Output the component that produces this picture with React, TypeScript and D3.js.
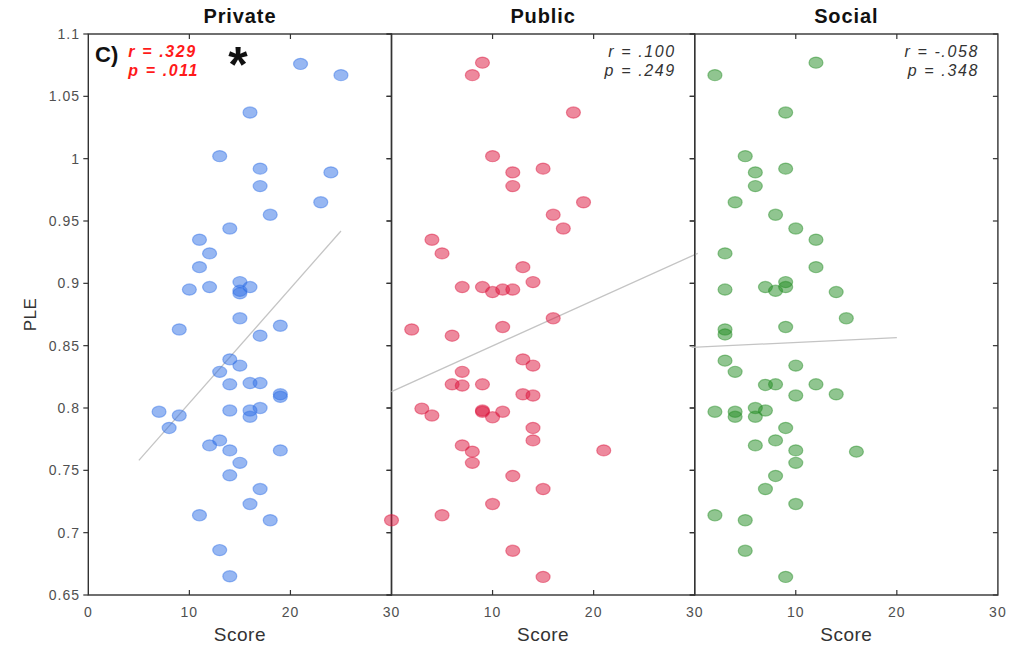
import * as d3 from 'd3'

// PLE vs. Score, one panel per context
const panelNames = ['Private', 'Public', 'Social']

// [score, PLE]
const privatePts: [number, number][] = [
  [21, 1.076], [25, 1.067], [16, 1.037], [13, 1.002], [17, 0.992], [24, 0.989], [17, 0.978], [23, 0.965],
  [18, 0.955], [14, 0.944], [11, 0.935], [12, 0.924], [11, 0.913], [10, 0.895], [12, 0.897], [15, 0.901],
  [15, 0.894], [15, 0.892], [16, 0.897], [15, 0.872], [9, 0.863], [19, 0.866], [17, 0.858], [14, 0.839],
  [15, 0.834], [13, 0.829], [14, 0.819], [16, 0.82], [17, 0.82], [19, 0.811], [19, 0.809], [7, 0.797],
  [9, 0.794], [14, 0.798], [16, 0.798], [17, 0.8], [16, 0.793], [8, 0.784], [12, 0.77], [13, 0.774],
  [14, 0.766], [19, 0.766], [15, 0.756], [14, 0.746], [17, 0.735], [16, 0.723], [11, 0.714], [18, 0.71],
  [13, 0.686], [14, 0.665],
]
const publicPts: [number, number][] = [
  [9, 1.077], [8, 1.067], [18, 1.037], [10, 1.002], [15, 0.992], [12, 0.989], [12, 0.978], [19, 0.965],
  [16, 0.955], [17, 0.944], [4, 0.935], [5, 0.924], [13, 0.913], [14, 0.901], [7, 0.897], [9, 0.897],
  [10, 0.893], [11, 0.895], [12, 0.895], [16, 0.872], [2, 0.863], [6, 0.858], [11, 0.865], [13, 0.839],
  [14, 0.834], [7, 0.829], [6, 0.819], [7, 0.818], [9, 0.819], [13, 0.811], [14, 0.81], [3, 0.7995],
  [4, 0.794], [9, 0.798], [9, 0.797], [11, 0.797], [10, 0.7926], [14, 0.784], [14, 0.774], [7, 0.77],
  [8, 0.765], [21, 0.766], [8, 0.756], [12, 0.7455], [15, 0.735], [10, 0.723], [5, 0.714], [0, 0.71],
  [12, 0.6855], [15, 0.6645],
]
const socialPts: [number, number][] = [
  [12, 1.077], [2, 1.067], [9, 1.037], [5, 1.002], [9, 0.992], [6, 0.989], [6, 0.978], [4, 0.965],
  [8, 0.955], [10, 0.944], [12, 0.935], [3, 0.924], [12, 0.913], [9, 0.901], [3, 0.895], [7, 0.897],
  [8, 0.894], [9, 0.897], [14, 0.893], [15, 0.872], [3, 0.863], [3, 0.859], [9, 0.865], [3, 0.838],
  [4, 0.829], [10, 0.834], [7, 0.8185], [8, 0.819], [12, 0.819], [10, 0.81], [14, 0.811], [2, 0.797],
  [4, 0.797], [4, 0.793], [6, 0.8], [6, 0.793], [7, 0.798], [9, 0.784], [8, 0.774], [6, 0.77],
  [10, 0.766], [16, 0.765], [10, 0.756], [8, 0.7455], [7, 0.735], [10, 0.723], [2, 0.714], [5, 0.71],
  [5, 0.6855], [9, 0.6645],
]
const panelPts = [privatePts, publicPts, socialPts]

// least-squares lines as drawn: [intercept, slope, xFrom, xTo]
const fits: [number, number, number, number][] = [
  [0.712, 0.0092, 5, 25],
  [0.8132, 0.00366, 0, 30.3],
  [0.8487, 0.00039, -0.3, 20],
]

const statR = ['r = .329', 'r = .100', 'r = -.058']
const statP = ['p = .011', 'p = .249', 'p = .348']

const xTicks = [0, 10, 20, 30]
const yTicks = [0.65, 0.7, 0.75, 0.8, 0.85, 0.9, 0.95, 1, 1.05, 1.1]

const colors = ['#2f6fe6', '#dc143c', '#228b22']

const W = 1019
const H = 645
const left = 88.3
const panelW = 303.2
const top = 34
const bottom = 595
const font = '"Liberation Sans", Arial, Helvetica, sans-serif'
const axisCol = '#333333'
const tickCol = '#505050'

export default function App() {
  const y = d3.scaleLinear().domain([0.65, 1.1]).range([bottom, top])
  const fmtY = (v: number) => String(+v.toFixed(2))

  return (
    <svg width={W} height={H} style={{ position: 'absolute', left: 0, top: 0, background: '#fff' }} fontFamily={font}>
      {/* y label */}
      <text
        transform={`translate(36,${(top + bottom) / 2}) rotate(-90)`}
        textAnchor="middle"
        fontSize={17}
        fill={axisCol}
        letterSpacing={0.5}
      >
        PLE
      </text>
      {yTicks.map((t) => (
        <text
          key={t}
          x={80}
          y={y(t)}
          dy="0.36em"
          textAnchor="end"
          fontSize={14}
          fill={tickCol}
          letterSpacing={1}
        >
          {fmtY(t)}
        </text>
      ))}

      {panelNames.map((name, i) => {
        const x0 = left + i * panelW
        const x = d3.scaleLinear().domain([0, 30]).range([x0, x0 + panelW])
        const pts = panelPts[i]
        const [b0, b1, fx0, fx1] = fits[i]
        const fitLine = d3
          .line<number>()
          .x((v) => x(v))
          .y((v) => y(b0 + b1 * v))
        const col = colors[i]
        const statCol = i === 0 ? '#ff1a1a' : '#333333'
        const statX = i === 0 ? x0 + 40 : x0 + panelW - 19
        return (
          <g key={name}>
            <text x={x(15)} y={23} textAnchor="middle" fontSize={20} fontWeight="bold" fill="#111" letterSpacing={0.9}>
              {name}
            </text>

            {/* box */}
            <rect x={x0} y={top} width={panelW} height={bottom - top} fill="none" stroke={axisCol} strokeWidth={1.4} />

            {/* y ticks: outward on the left, inward on the right */}
            {yTicks.map((t) => (
              <g key={t} stroke={axisCol} strokeWidth={1.2}>
                <line x1={x0 - 5} x2={x0} y1={y(t)} y2={y(t)} />
                <line x1={x0 + panelW - 5} x2={x0 + panelW} y1={y(t)} y2={y(t)} />
              </g>
            ))}
            {/* x ticks, inward top and bottom */}
            {xTicks.slice(1, 3).map((t) => (
              <g key={t} stroke={axisCol} strokeWidth={1.2}>
                <line x1={x(t)} x2={x(t)} y1={top} y2={top + 5} />
                <line x1={x(t)} x2={x(t)} y1={bottom} y2={bottom - 5} />
              </g>
            ))}
            {xTicks
              .filter((t) => i === 0 || t > 0)
              .map((t) => (
                <text
                  key={t}
                  x={x(t)}
                  y={612}
                  dy="0.36em"
                  textAnchor="middle"
                  fontSize={14}
                  fill={tickCol}
                  letterSpacing={1}
                >
                  {t}
                </text>
              ))}
            <text x={x(15)} y={641} textAnchor="middle" fontSize={19} fill={axisCol} letterSpacing={0.5}>
              Score
            </text>

            {/* fit line */}
            <path d={fitLine([fx0, fx1]) ?? ''} fill="none" stroke="#c4c4c4" strokeWidth={1.3} />

            {/* points */}
            {pts.map(([sx, sy], k) => (
              <ellipse
                key={k}
                cx={x(sx)}
                cy={y(sy)}
                rx={7}
                ry={5.6}
                fill={col}
                fillOpacity={0.5}
                stroke={col}
                strokeOpacity={0.45}
                strokeWidth={1.2}
              />
            ))}

            {/* stats */}
            {[statR[i], statP[i]].map((s, k) => (
              <text
                key={s}
                x={statX}
                y={57 + k * 19}
                textAnchor={i === 0 ? 'start' : 'end'}
                fontSize={16}
                fontStyle="italic"
                fontWeight={i === 0 ? 'bold' : 'normal'}
                fill={statCol}
                letterSpacing={1.6}
              >
                {s}
              </text>
            ))}
          </g>
        )
      })}

      {/* panel label and significance mark */}
      <text x={95} y={62} fontSize={22} fontWeight="bold" fill="#111">
        C)
      </text>
      <text x={238} y={82} textAnchor="middle" fontSize={50} fontWeight="bold" fill="#111">
        *
      </text>
    </svg>
  )
}
